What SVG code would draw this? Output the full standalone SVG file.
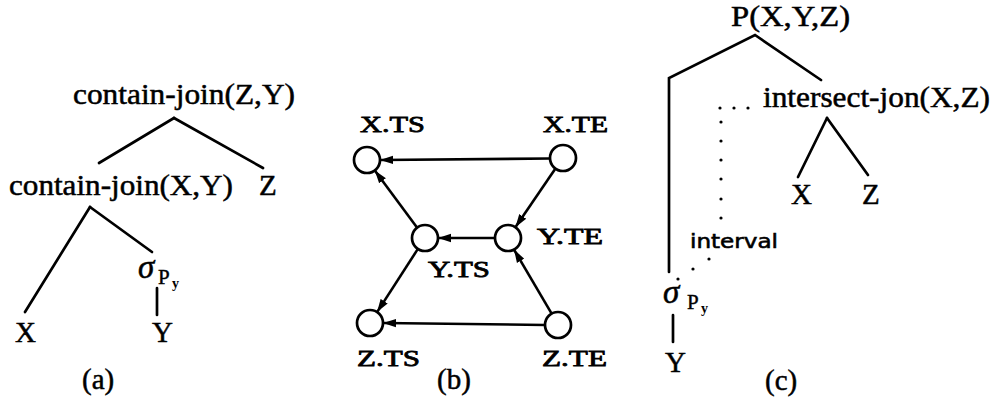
<svg xmlns="http://www.w3.org/2000/svg" width="994" height="405" viewBox="0 0 994 405">
  <defs>
    <style>
      .t { font-family: "Liberation Serif", "DejaVu Serif", serif; font-size: 29px; fill: #000; stroke: #000; stroke-width: 0.5; }
      .tb { font-family: "Liberation Serif", "DejaVu Serif", serif; font-size: 23px; fill: #000; stroke: #000; stroke-width: 0.8; }
      .sig { font-family: "Liberation Serif", "DejaVu Serif", serif; font-size: 33px; font-style: italic; fill: #000; stroke: #000; stroke-width: 0.5; }
      .sub { font-family: "Liberation Serif", "DejaVu Serif", serif; font-size: 21px; fill: #000; stroke: #000; stroke-width: 0.4; }
      .sub2 { font-family: "Liberation Serif", "DejaVu Serif", serif; font-size: 14px; font-weight: bold; fill: #000; }
      .sans { font-family: "DejaVu Sans", "Liberation Sans", sans-serif; font-size: 20px; fill: #000; stroke: #000; stroke-width: 0.6; }
      .edge { stroke: #000; stroke-width: 2.7; fill: none; stroke-linecap: round; }
      .arc { stroke: #000; stroke-width: 2.6; fill: none; marker-end: url(#head); }
      .node { stroke: #000; stroke-width: 2.7; fill: #fff; }
      .dot { fill: #000; }
    </style>
    <marker id="head" markerUnits="userSpaceOnUse" markerWidth="14" markerHeight="10" refX="13" refY="5" orient="auto">
      <path d="M0,0.8 L13,5 L0,9.2 z" fill="#000"/>
    </marker>
  </defs>

  <!-- (a) operator tree -->
  <g id="tree-a">
    <g id="a-root">
      <text class="t" x="73" y="104" textLength="222" lengthAdjust="spacingAndGlyphs">contain-join(Z,Y)</text>
    </g>
    <g id="a-join">
      <text class="t" x="9" y="195" textLength="224" lengthAdjust="spacingAndGlyphs">contain-join(X,Y)</text>
    </g>
    <g id="a-z">
      <text class="t" x="259" y="195">Z</text>
    </g>
    <g id="a-select">
      <text class="sig" x="138" y="278">σ</text>
      <text class="sub" x="158" y="284">P</text>
      <text class="sub2" x="172" y="288">y</text>
    </g>
    <g id="a-x">
      <text class="t" x="15" y="342">X</text>
    </g>
    <g id="a-y">
      <text class="t" x="152" y="342">Y</text>
    </g>
    <g id="a-edges">
      <line class="edge" x1="174" y1="118" x2="99" y2="163"/>
      <line class="edge" x1="174" y1="118" x2="263" y2="168"/>
      <line class="edge" x1="90" y1="207" x2="25" y2="312"/>
      <line class="edge" x1="90" y1="207" x2="152" y2="252"/>
      <line class="edge" x1="157" y1="288" x2="157" y2="315"/>
    </g>
    <text class="t" x="82" y="389">(a)</text>
  </g>

  <!-- (b) endpoint precedence graph -->
  <g id="graph-b">
    <g id="b-edges">
      <line class="arc" x1="550" y1="158.5" x2="380" y2="160"/>
      <line class="arc" x1="417" y1="227.6" x2="374.8" y2="170.4"/>
      <line class="arc" x1="555.3" y1="168.8" x2="515.4" y2="227.2"/>
      <line class="arc" x1="495" y1="238" x2="438" y2="238"/>
      <line class="arc" x1="551.5" y1="313.4" x2="514" y2="249.6"/>
      <line class="arc" x1="417.9" y1="248.9" x2="377.1" y2="312.1"/>
      <line class="arc" x1="545" y1="325" x2="383" y2="323"/>
    </g>
    <g id="b-xts">
      <circle class="node" cx="367" cy="160" r="13"/>
      <text class="tb" x="360" y="132" textLength="65" lengthAdjust="spacingAndGlyphs">X.TS</text>
    </g>
    <g id="b-xte">
      <circle class="node" cx="563" cy="158" r="13"/>
      <text class="tb" x="543" y="132" textLength="65" lengthAdjust="spacingAndGlyphs">X.TE</text>
    </g>
    <g id="b-yts">
      <circle class="node" cx="425" cy="238" r="13"/>
      <text class="tb" x="428" y="277" textLength="62" lengthAdjust="spacingAndGlyphs">Y.TS</text>
    </g>
    <g id="b-yte">
      <circle class="node" cx="508" cy="238" r="13"/>
      <text class="tb" x="537" y="244" textLength="66" lengthAdjust="spacingAndGlyphs">Y.TE</text>
    </g>
    <g id="b-zts">
      <circle class="node" cx="370" cy="323" r="13"/>
      <text class="tb" x="357" y="366" textLength="63" lengthAdjust="spacingAndGlyphs">Z.TS</text>
    </g>
    <g id="b-zte">
      <circle class="node" cx="558" cy="325" r="13"/>
      <text class="tb" x="542" y="366" textLength="65" lengthAdjust="spacingAndGlyphs">Z.TE</text>
    </g>
    <text class="t" x="437" y="389">(b)</text>
  </g>

  <!-- (c) predicate tree with interval link -->
  <g id="tree-c">
    <g id="c-root">
      <text class="t" x="731" y="26" textLength="119" lengthAdjust="spacingAndGlyphs">P(X,Y,Z)</text>
    </g>
    <g id="c-intersect">
      <text class="t" x="763" y="107" textLength="227" lengthAdjust="spacingAndGlyphs">intersect-jon(X,Z)</text>
    </g>
    <g id="c-x">
      <text class="t" x="791" y="204">X</text>
    </g>
    <g id="c-z">
      <text class="t" x="862" y="204">Z</text>
    </g>
    <g id="c-select">
      <text class="sig" x="663" y="303">σ</text>
      <text class="sub" x="687" y="309">P</text>
      <text class="sub2" x="701" y="313">y</text>
    </g>
    <g id="c-y">
      <text class="t" x="665" y="372">Y</text>
    </g>
    <g id="c-edges">
      <polyline class="edge" points="821,80 755,35 669,78 669,272"/>
      <line class="edge" x1="827" y1="118" x2="798" y2="177"/>
      <line class="edge" x1="827" y1="118" x2="868" y2="175"/>
      <line class="edge" x1="673" y1="315" x2="673" y2="342"/>
    </g>
    <g id="c-interval">
      <circle class="dot" cx="720" cy="108" r="1.6"/>
      <circle class="dot" cx="734" cy="108" r="1.6"/>
      <circle class="dot" cx="748" cy="108" r="1.6"/>
      <circle class="dot" cx="721" cy="122" r="1.6"/>
      <circle class="dot" cx="721" cy="141" r="1.6"/>
      <circle class="dot" cx="721" cy="160" r="1.6"/>
      <circle class="dot" cx="721" cy="179" r="1.6"/>
      <circle class="dot" cx="721" cy="199" r="1.6"/>
      <circle class="dot" cx="721" cy="218" r="1.6"/>
      <circle class="dot" cx="709" cy="259" r="1.6"/>
      <circle class="dot" cx="693" cy="269" r="1.6"/>
      <circle class="dot" cx="678" cy="279" r="1.6"/>
      <text class="sans" x="690" y="248" textLength="88" lengthAdjust="spacingAndGlyphs">interval</text>
    </g>
    <text class="t" x="765" y="390">(c)</text>
  </g>
</svg>
